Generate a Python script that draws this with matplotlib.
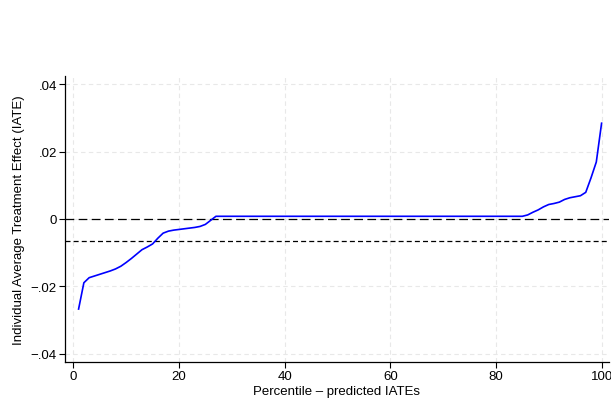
import matplotlib.pyplot as plt
import numpy as np

plt.rcParams['font.family'] = ['Liberation Sans', 'DejaVu Sans']

# percentile of predicted IATEs
percentile = list(range(1, 101))

# sorted predicted IATEs by percentile
iate = [
    -0.0267, -0.0189, -0.0174, -0.0169, -0.0164, -0.0159, -0.0154, -0.0148, -0.0140, -0.0129,
    -0.0117, -0.0104, -0.0091, -0.0083, -0.0074, -0.0057, -0.0042, -0.0036, -0.0033, -0.0031,
    -0.0029, -0.0027, -0.0025, -0.0022, -0.0016, -0.0004, 0.0008, 0.0008, 0.0008, 0.0008,
    0.0008, 0.0008, 0.0008, 0.0008, 0.0008, 0.0008, 0.0008, 0.0008, 0.0008, 0.0008,
    0.0008, 0.0008, 0.0008, 0.0008, 0.0008, 0.0008, 0.0008, 0.0008, 0.0008, 0.0008,
    0.0008, 0.0008, 0.0008, 0.0008, 0.0008, 0.0008, 0.0008, 0.0008, 0.0008, 0.0008,
    0.0008, 0.0008, 0.0008, 0.0008, 0.0008, 0.0008, 0.0008, 0.0008, 0.0008, 0.0008,
    0.0008, 0.0008, 0.0008, 0.0008, 0.0008, 0.0008, 0.0008, 0.0008, 0.0008, 0.0008,
    0.0008, 0.0008, 0.0008, 0.0008, 0.0008, 0.0012, 0.0020, 0.0027, 0.0036, 0.0043,
    0.0046, 0.0050, 0.0058, 0.0063, 0.0066, 0.0069, 0.0079, 0.0122, 0.0169, 0.0284,
]

mean_iate = -0.0066
x_ticks = [0, 20, 40, 60, 80, 100]
y_ticks = [-0.04, -0.02, 0, 0.02, 0.04]
y_ticklabels = ['\u2212.04', '\u2212.02', '0', '.02', '.04']

fig = plt.figure(figsize=(6.11, 4.06), dpi=100)
ax = fig.add_axes([0.1064, 0.1067, 0.8903, 0.7037])

ax.plot(percentile, iate, color='#0000ff', linewidth=1.2, zorder=3)
ax.axhline(0, color='black', linewidth=0.9, dashes=(7, 3.5), zorder=2)
ax.axhline(mean_iate, color='black', linewidth=0.9, dashes=(4, 2.5), zorder=2)

ax.set_xlim(-1.57, 101.4)
ax.set_ylim(-0.0423, 0.0424)
ax.set_xticks(x_ticks)
ax.set_yticks(y_ticks)
ax.set_yticklabels(y_ticklabels)

ax.grid(True, color='#e8e8e8', linestyle=(0, (4, 3)), linewidth=0.8)
ax.set_axisbelow(True)

for side in ['top', 'right']:
    ax.spines[side].set_visible(False)
for side in ['left', 'bottom']:
    ax.spines[side].set_linewidth(0.9)
ax.tick_params(direction='out', length=4, width=0.8, labelsize=9.5, pad=2)
ax.tick_params(axis='y', labelrotation=0)

ax.set_xlabel('Percentile \u2013 predicted IATEs', fontsize=9.5, labelpad=2)
ax.set_ylabel('Individual Average Treatment Effect (IATE)', fontsize=9.5, labelpad=4)

fig.savefig('out.png', dpi=100, facecolor='white')
